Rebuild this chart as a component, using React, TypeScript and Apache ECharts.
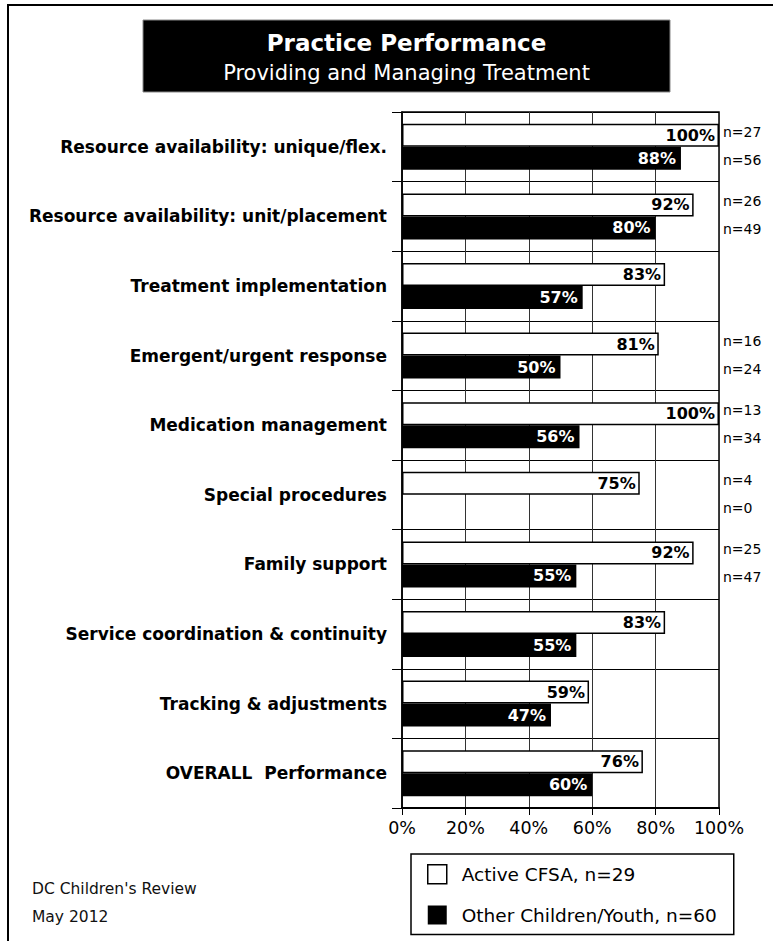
import React, { useEffect, useRef } from "react";
import * as echarts from "echarts";

const categories = [
  "Resource availability: unique/flex.",
  "Resource availability: unit/placement",
  "Treatment implementation",
  "Emergent/urgent response",
  "Medication management",
  "Special procedures",
  "Family support",
  "Service coordination & continuity",
  "Tracking & adjustments",
  "OVERALL  Performance",
];
const activeValues = [100, 92, 83, 81, 100, 75, 92, 83, 59, 76];
const otherValues: (number | null)[] = [88, 80, 57, 50, 56, null, 55, 55, 47, 60];
const activeN: (number | null)[] = [27, 26, null, 16, 13, 4, 25, null, null, null];
const otherN: (number | null)[] = [56, 49, null, 24, 34, 0, 47, null, null, null];
const xTicks = { min: 0, max: 100, interval: 20 };
const seriesNames = ["Active CFSA, n=29", "Other Children/Youth, n=60"];
const titleText = "Practice Performance";
const subtitleText = "Providing and Managing Treatment";
const footerLines = ["DC Children's Review", "May 2012"];

const FONT = "'DejaVu Sans', sans-serif";

export default function App() {
  const ref = useRef<HTMLDivElement>(null);
  useEffect(() => {
    if (!ref.current) return;
    const chart = echarts.init(ref.current, undefined, { renderer: "svg" });
    const nPoints = (arr: (number | null)[]) =>
      arr
        .map((n, i) => (n === null ? null : [xTicks.max, i, n]))
        .filter((d) => d !== null);
    const nSeries = (arr: (number | null)[], dy: number) => ({
      type: "scatter",
      data: nPoints(arr),
      symbolSize: 0,
      silent: true,
      clip: false,
      itemStyle: { opacity: 1, color: "#000" },
      label: {
        show: true,
        position: "right",
        distance: 4,
        offset: [0, dy],
        formatter: (p: any) => "n=" + p.value[2],
        color: "#000",
        opacity: 1,
        fontSize: 14,
        fontFamily: FONT,
      },
    });
    chart.setOption({
      animation: false,
      backgroundColor: "#fff",
      textStyle: { fontFamily: FONT },
      grid: {
        left: 402,
        top: 112,
        width: 317,
        height: 696,
        show: true,
        borderColor: "#000",
        borderWidth: 1.5,
        backgroundColor: "transparent",
      },
      legend: {
        orient: "vertical",
        left: 411,
        top: 854,
        itemWidth: 19,
        itemHeight: 19,
        itemGap: 21,
        padding: [10, 17, 10, 16],
        borderColor: "#000",
        borderWidth: 1.5,
        icon: "rect",
        selectedMode: false,
        textStyle: {
          color: "#000",
          fontSize: 18.5,
          fontFamily: FONT,
          lineHeight: 19,
          padding: [0, 0, 0, 10],
        },
        data: [
          { name: seriesNames[0], itemStyle: { color: "#fff", borderColor: "#000", borderWidth: 1.5 } },
          { name: seriesNames[1], itemStyle: { color: "#000", borderColor: "#000", borderWidth: 0 } },
        ],
      },
      xAxis: {
        type: "value",
        min: xTicks.min,
        max: xTicks.max,
        interval: xTicks.interval,
        axisLine: { show: true, lineStyle: { color: "#000", width: 2 } },
        axisTick: { show: true, length: 7, lineStyle: { color: "#000", width: 1 } },
        axisLabel: {
          formatter: "{value}%",
          color: "#000",
          fontSize: 17.5,
          fontFamily: FONT,
          margin: 11,
        },
        splitLine: { show: true, lineStyle: { color: "#333", width: 1 } },
      },
      yAxis: {
        type: "category",
        inverse: true,
        data: categories,
        axisLine: { show: true, lineStyle: { color: "#000", width: 1.5 } },
        axisTick: { show: true, length: 10, lineStyle: { color: "#000", width: 1 } },
        axisLabel: {
          color: "#000",
          fontWeight: "bold",
          fontSize: 17,
          fontFamily: FONT,
          margin: 15,
        },
        splitLine: { show: true, lineStyle: { color: "#000", width: 1 } },
      },
      series: [
        {
          name: seriesNames[0],
          type: "bar",
          data: activeValues,
          barWidth: 23,
          barGap: "0%",
          itemStyle: { color: "#fff", borderColor: "#000", borderWidth: 1.5 },
          label: {
            show: true,
            position: "insideRight",
            distance: 3,
            formatter: "{c}%",
            color: "#000",
            fontWeight: "bold",
            fontSize: 16,
            fontFamily: FONT,
            backgroundColor: "#fff",
            padding: [1, 1, 0, 2],
          },
        },
        {
          name: seriesNames[1],
          type: "bar",
          data: otherValues,
          barWidth: 23,
          barGap: "0%",
          itemStyle: { color: "#000" },
          label: {
            show: true,
            position: "insideRight",
            distance: 5,
            formatter: "{c}%",
            color: "#fff",
            fontWeight: "bold",
            fontSize: 16,
            fontFamily: FONT,
          },
        },
        nSeries(activeN, -15),
        nSeries(otherN, 13),
      ],
      graphic: [
        {
          type: "rect",
          shape: { x: 8, y: 5, width: 900, height: 1100 },
          style: { fill: "none", stroke: "#000", lineWidth: 2 },
          z: 0,
        },
        {
          type: "rect",
          shape: { x: 143, y: 20, width: 527, height: 72 },
          style: { fill: "#000", stroke: "#888", lineWidth: 1 },
        },
        {
          type: "text",
          x: 406.5,
          y: 43,
          style: {
            text: titleText,
            fill: "#fff",
            font: `bold 23px ${FONT}`,
            textAlign: "center",
            textVerticalAlign: "middle",
          },
        },
        {
          type: "text",
          x: 406.5,
          y: 72.5,
          style: {
            text: subtitleText,
            fill: "#fff",
            font: `21px ${FONT}`,
            textAlign: "center",
            textVerticalAlign: "middle",
          },
        },
        {
          type: "text",
          x: 32,
          y: 889,
          style: {
            text: footerLines[0],
            fill: "#111",
            font: `15.5px ${FONT}`,
            textVerticalAlign: "middle",
          },
        },
        {
          type: "text",
          x: 32,
          y: 917,
          style: {
            text: footerLines[1],
            fill: "#111",
            font: `15.5px ${FONT}`,
            textVerticalAlign: "middle",
          },
        },
      ],
    });
    return () => chart.dispose();
  }, []);
  return (
    <div
      ref={ref}
      style={{ position: "absolute", left: 0, top: 0, width: 773, height: 941 }}
    />
  );
}
